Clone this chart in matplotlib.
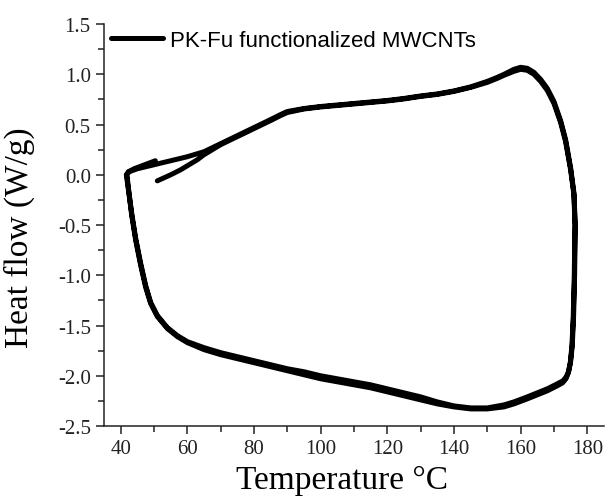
import matplotlib
matplotlib.use("Agg")
import matplotlib.pyplot as plt
from matplotlib.ticker import MultipleLocator

# ---- data (two DSC cycles + start/end tails) ----
# heating 1 (starts at the lower tail near 51 C)
heat1_T = [51, 53, 55, 58, 60, 63, 65, 70, 75, 80, 85, 88, 90, 95, 100, 105, 110, 115,
           120, 125, 130, 135, 140, 145, 150, 153, 155, 158, 160, 162, 164, 166, 168,
           170, 172, 173.5, 175, 176, 176.3]
heat1_hf = [-0.06, -0.03, 0.0, 0.05, 0.09, 0.15, 0.2, 0.3, 0.38, 0.46, 0.54, 0.59, 0.62,
            0.655, 0.675, 0.69, 0.705, 0.72, 0.735, 0.755, 0.78, 0.8, 0.83, 0.87, 0.92,
            0.96, 0.99, 1.03, 1.05, 1.04, 1.0, 0.93, 0.84, 0.71, 0.52, 0.33, 0.05, -0.2, -0.5]
# cooling 1
cool1_T = [176.3, 176.1, 175.8, 175.4, 174.9, 174.3, 173.6, 172.6, 171, 168, 165, 162,
           158, 155, 150, 145, 140, 135, 130, 125, 120, 115, 110, 105, 100, 95, 90, 85,
           80, 75, 70, 65, 60, 57, 54, 51, 49, 47.5, 46, 44.5, 43.3, 42.4, 41.9, 42.5]
cool1_hf = [-0.5, -1.0, -1.4, -1.7, -1.87, -1.97, -2.03, -2.07, -2.1, -2.15, -2.19,
            -2.23, -2.28, -2.31, -2.33, -2.33, -2.31, -2.28, -2.24, -2.2, -2.16, -2.12,
            -2.09, -2.06, -2.03, -1.99, -1.95, -1.91, -1.87, -1.83, -1.79, -1.74, -1.67,
            -1.61, -1.53, -1.41, -1.28, -1.12, -0.9, -0.65, -0.4, -0.15, 0.0, 0.03]
# heating 2
heat2_T = [42.5, 45, 50, 55, 60, 65, 70, 75, 80, 85, 88, 90, 95, 100, 105, 110, 115, 120,
           125, 130, 135, 140, 145, 150, 153, 155, 158, 160, 162, 164, 166, 168, 170,
           172, 173.5, 175, 176, 176.4]
heat2_hf = [0.03, 0.06, 0.1, 0.14, 0.18, 0.23, 0.31, 0.39, 0.47, 0.55, 0.6, 0.63, 0.66,
            0.68, 0.695, 0.71, 0.725, 0.74, 0.76, 0.785, 0.805, 0.835, 0.875, 0.93, 0.97,
            1.0, 1.05, 1.07, 1.06, 1.02, 0.95, 0.86, 0.73, 0.54, 0.35, 0.07, -0.18, -0.5]
# cooling 2
cool2_T = [176.4, 176.2, 175.9, 175.5, 175.0, 174.4, 173.7, 172.7, 171, 168, 165, 162,
           158, 155, 150, 145, 140, 135, 130, 125, 120, 115, 110, 105, 100, 95, 90, 85,
           80, 75, 70, 65, 60, 57, 54, 51, 49, 47.5, 46, 44.5, 43.3, 42.3, 41.7, 42.3]
cool2_hf = [-0.5, -1.0, -1.4, -1.7, -1.86, -1.96, -2.01, -2.05, -2.08, -2.13, -2.17,
            -2.21, -2.26, -2.29, -2.32, -2.32, -2.3, -2.26, -2.21, -2.17, -2.13, -2.09,
            -2.06, -2.03, -2.0, -1.96, -1.93, -1.89, -1.85, -1.81, -1.77, -1.72, -1.66,
            -1.6, -1.52, -1.4, -1.27, -1.1, -0.88, -0.63, -0.38, -0.14, 0.0, 0.03]
# heating 3 (short end tail)
heat3_T = [42.3, 44, 46, 48, 50.4]
heat3_hf = [0.03, 0.06, 0.085, 0.11, 0.14]

T = heat1_T + cool1_T + heat2_T + cool2_T + heat3_T
hf = heat1_hf + cool1_hf + heat2_hf + cool2_hf + heat3_hf

label = 'PK-Fu functionalized MWCNTs'

fig = plt.figure(figsize=(6.06, 5.02), dpi=100)
ax = fig.add_axes([0.1716, 0.1494, 0.825, 0.8006])

ax.plot(T, hf, color='black', linewidth=3.6, solid_joinstyle='round',
        solid_capstyle='round', label=label)

ax.set_xlim(35, 185)
ax.set_ylim(-2.5, 1.5)
ax.xaxis.set_major_locator(MultipleLocator(20))
ax.xaxis.set_minor_locator(MultipleLocator(10))
ax.yaxis.set_major_locator(MultipleLocator(0.5))
ax.yaxis.set_minor_locator(MultipleLocator(0.25))
ax.yaxis.set_major_formatter(matplotlib.ticker.FormatStrFormatter('%.1f'))

for s in ['top', 'right']:
    ax.spines[s].set_visible(False)
for s in ['left', 'bottom']:
    ax.spines[s].set_linewidth(1.1)
    ax.spines[s].set_color('#222222')

ax.tick_params(which='major', direction='out', length=6, width=1.1, color='#222222')
ax.tick_params(which='minor', direction='out', length=4, width=1.1, color='#222222')
for lab in ax.get_xticklabels() + ax.get_yticklabels():
    lab.set_fontfamily('Liberation Serif')
    lab.set_fontsize(15)
    lab.set_color('#222222')

ax.set_xlabel('Temperature \u00b0C', fontfamily='Liberation Serif', fontsize=24)
ax.set_ylabel('Heat flow (W/g)', fontfamily='Liberation Serif', fontsize=24)
ax.xaxis.set_label_coords(0.476, -0.095)
ax.yaxis.set_label_coords(-0.138, 0.47)

ax.legend(loc='upper left', bbox_to_anchor=(-0.025, 1.035), frameon=False,
          handlelength=2.3, handletextpad=0.35,
          prop={'family': 'Liberation Sans', 'size': 16})

fig.savefig('out.png', dpi=100)
